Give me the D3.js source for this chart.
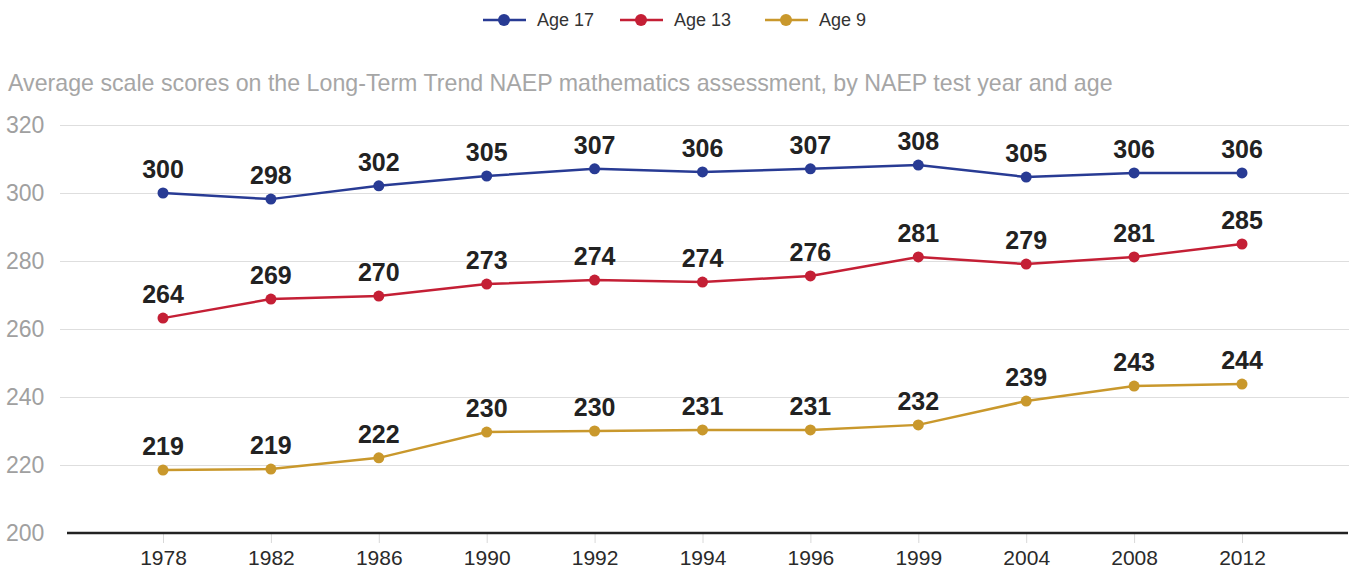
<!DOCTYPE html>
<html><head><meta charset="utf-8">
<script src="https://cdn.jsdelivr.net/npm/d3@7"></script>
<style>body{margin:0;background:#fff}svg{display:block}</style>
</head><body><svg id="c" width="1351" height="572"></svg>
<script>
const years = ["1978","1982","1986","1990","1992","1994","1996","1999","2004","2008","2012"];
const age17 = [300.0,298.2,302.1,305.0,307.1,306.2,307.1,308.2,304.7,305.9,305.9];
const age13 = [263.2,268.8,269.7,273.2,274.4,273.8,275.6,281.2,279.1,281.2,285.0];
const age9  = [218.5,218.8,222.1,229.7,230.0,230.3,230.3,231.8,238.8,243.2,243.8];
const labels17 = ["300","298","302","305","307","306","307","308","305","306","306"];
const labels13 = ["264","269","270","273","274","274","276","281","279","281","285"];
const labels9  = ["219","219","222","230","230","231","231","232","239","243","244"];
const yTicks = [200,220,240,260,280,300,320];
const seriesNames = ["Age 17","Age 13","Age 9"];
const colors = ["#283b94","#c41f35","#c9982c"];
const title = "Average scale scores on the Long-Term Trend NAEP mathematics assessment, by NAEP test year and age";

const svg = d3.select("#c");
const font = "'Liberation Sans', Arial, sans-serif";
const x = d3.scalePoint().domain(years).range([163,1242]);
const y = d3.scaleLinear().domain([200,320]).range([533,125]);

// title
svg.append("text").attr("x",8).attr("y",91).attr("font-family",font).attr("font-size",23.2)
  .attr("fill","#a6a6a6").text(title);

// grid
const gy = svg.append("g").attr("transform","translate(60,0)")
  .call(d3.axisLeft(y).tickValues(yTicks.slice(1)).tickSize(-1289).tickFormat(""));
gy.select(".domain").remove();
gy.selectAll(".tick line").attr("stroke","#dedede").attr("stroke-width",1.2);

// y labels
svg.append("g").selectAll("text").data(yTicks).join("text")
  .attr("x",6).attr("y",d=>y(d)+8).attr("font-family",font).attr("font-size",23)
  .attr("fill","#a0a0a0").text(d=>d);

// x axis
const gx = svg.append("g").attr("transform","translate(0,533)")
  .call(d3.axisBottom(x).tickSize(10).tickPadding(7));
gx.select(".domain").remove();
gx.selectAll(".tick line").attr("stroke","#d8d8d8").attr("stroke-width",1);
gx.selectAll(".tick text").attr("font-family",font).attr("font-size",21).attr("fill","#2a2a2a");
svg.append("line").attr("x1",67).attr("x2",1348).attr("y1",533).attr("y2",533)
  .attr("stroke","#222").attr("stroke-width",2.5);

const series = [
  {name:seriesNames[0], vals:age17, labels:labels17, color:colors[0]},
  {name:seriesNames[1], vals:age13, labels:labels13, color:colors[1]},
  {name:seriesNames[2], vals:age9, labels:labels9, color:colors[2]}
];
const line = d3.line().x((d,i)=>x(years[i])).y(d=>y(d));
series.forEach(s=>{
  const g = svg.append("g");
  g.append("path").attr("d",line(s.vals)).attr("fill","none").attr("stroke",s.color).attr("stroke-width",2.5);
  g.selectAll("circle").data(s.vals).join("circle")
    .attr("cx",(d,i)=>x(years[i])).attr("cy",d=>y(d)).attr("r",5.5).attr("fill",s.color);
  g.selectAll("text").data(s.vals).join("text")
    .attr("x",(d,i)=>x(years[i])).attr("y",d=>y(d)-15).attr("text-anchor","middle")
    .attr("font-family",font).attr("font-size",25).attr("font-weight","bold").attr("fill","#222")
    .text((d,i)=>s.labels[i]);
});

// legend
const legX = [483,620,765];
const lg = svg.append("g");
series.forEach((s,i)=>{
  const g = lg.append("g").attr("transform",`translate(${legX[i]},20)`);
  g.append("line").attr("x1",0).attr("x2",43).attr("stroke",s.color).attr("stroke-width",2.5);
  g.append("circle").attr("cx",21).attr("r",6).attr("fill",s.color);
  g.append("text").attr("x",54).attr("y",6).attr("font-family",font).attr("font-size",18)
    .attr("fill","#333").text(s.name);
});
</script></body></html>
